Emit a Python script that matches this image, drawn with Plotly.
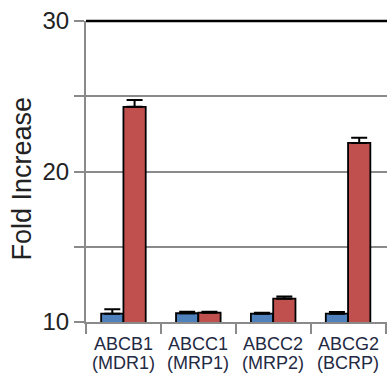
import plotly.graph_objects as go

genes = ["ABCB1", "ABCC1", "ABCC2", "ABCG2"]
aliases = ["(MDR1)", "(MRP1)", "(MRP2)", "(BCRP)"]
categories = [g + " " + a for g, a in zip(genes, aliases)]

control_vals = [10.55, 10.58, 10.55, 10.55]
control_err = [0.30, 0.10, 0.06, 0.12]
treated_vals = [24.3, 10.62, 11.55, 21.9]
treated_err = [0.45, 0.06, 0.15, 0.35]

y_tickvals = [10, 15, 20, 25, 30]
y_ticktext = ["10", "", "20", "", "30"]

FONT = "Arial, Liberation Sans, sans-serif"

fig = go.Figure()
fig.add_trace(go.Bar(
    x=categories, y=control_vals, base=0,
    marker=dict(color="#4F81BD", line=dict(color="black", width=1.8)),
    error_y=dict(type="data", array=control_err, arrayminus=[0]*4, symmetric=False,
                 color="black", thickness=2, width=8),
    showlegend=False,
))
fig.add_trace(go.Bar(
    x=categories, y=treated_vals, base=0,
    marker=dict(color="#C0504D", line=dict(color="black", width=1.8)),
    error_y=dict(type="data", array=treated_err, arrayminus=[0]*4, symmetric=False,
                 color="black", thickness=2, width=8),
    showlegend=False,
))

fig.update_layout(
    width=387, height=376,
    margin=dict(l=86, r=0, t=21, b=54),
    paper_bgcolor="white", plot_bgcolor="white",
    barmode="group", bargap=0.405, bargroupgap=0,
    font=dict(family=FONT, color="#222222"),
    xaxis=dict(
        type="category", range=[-0.5, 3.52],
        showticklabels=False,
        tickson="boundaries", ticks="outside", ticklen=10, tickwidth=2, tickcolor="#8a8a8a",
        showline=True, linecolor="#8a8a8a", linewidth=2,
        showgrid=False, zeroline=False,
    ),
    yaxis=dict(
        range=[10, 30], tickvals=y_tickvals, ticktext=y_ticktext,
        ticks="outside", ticklen=10, tickwidth=2, tickcolor="#8a8a8a",
        tickfont=dict(size=24, color="#222222", family=FONT),
        showline=True, linecolor="#8a8a8a", linewidth=2,
        showgrid=True, gridcolor="#8a8a8a", gridwidth=2,
        zeroline=False,
    ),
    shapes=[dict(type="line", xref="paper", yref="paper", x0=0, x1=1, y0=1, y1=1,
                 line=dict(color="black", width=2.5))],
)

annotations = [dict(
    text="Fold Increase", textangle=-90, xref="paper", yref="paper",
    x=0, y=0.5, xanchor="center", yanchor="middle", xshift=-65, yshift=-7, showarrow=False,
    font=dict(size=27, family=FONT, color="#222222"),
)]
for cat, g, a in zip(categories, genes, aliases):
    annotations.append(dict(text=g, xref="x", yref="paper", x=cat, y=0, yanchor="middle",
                            yshift=-22, showarrow=False,
                            font=dict(size=18, family=FONT, color="#1f2a44")))
    annotations.append(dict(text=a, xref="x", yref="paper", x=cat, y=0, yanchor="middle",
                            yshift=-41, showarrow=False,
                            font=dict(size=18, family=FONT, color="#1f2a44")))
fig.update_layout(annotations=annotations)

fig.write_html("out.html", config={"displayModeBar": False},
               post_script="document.body.style.margin='0';")
